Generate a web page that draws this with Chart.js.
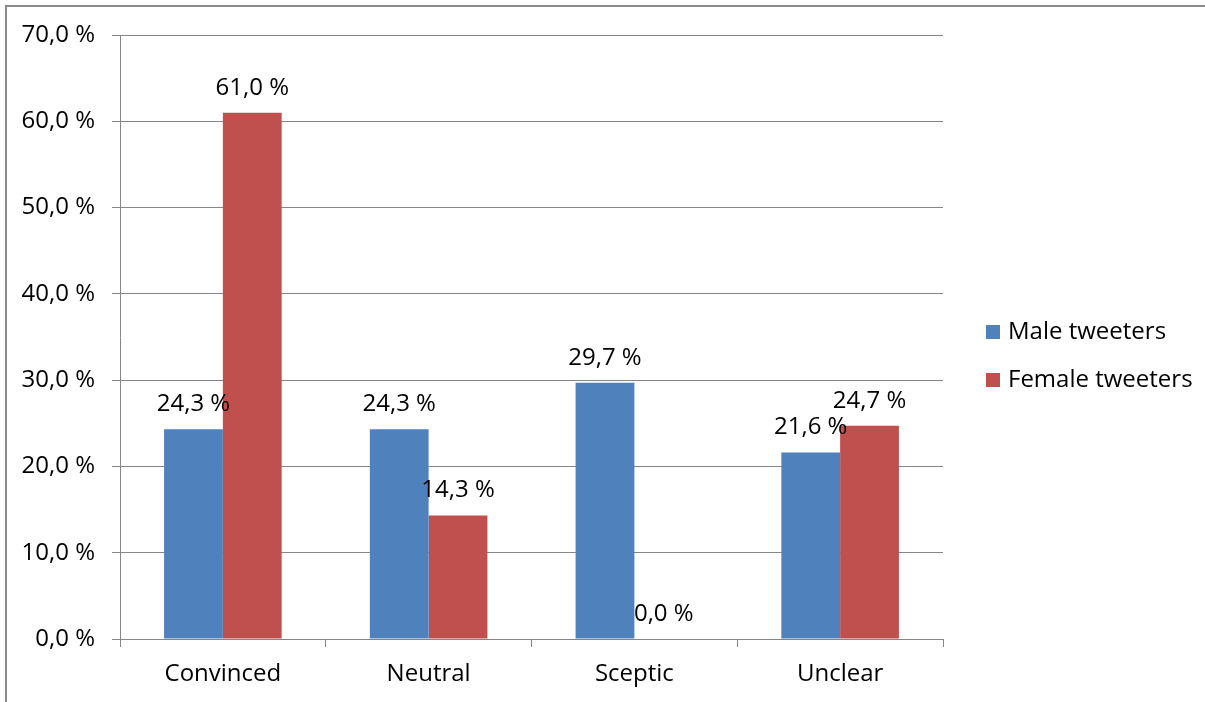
<!DOCTYPE html>
<html>
<head>
<meta charset="utf-8">
<script src="https://cdn.jsdelivr.net/npm/chart.js@4/dist/chart.umd.min.js"></script>
<style>
  html, body { margin: 0; padding: 0; background: #fff; }
  #wrap { position: relative; width: 1205px; height: 702px; }
  canvas { display: block; }
</style>
</head>
<body>
<div id="wrap"><canvas id="chart" width="1205" height="702"></canvas></div>
<script>
// Share of tweets by stance, split by tweeter gender (percent)
const categories = ['Convinced', 'Neutral', 'Sceptic', 'Unclear'];
const maleValues = [24.3, 24.3, 29.7, 21.6];
const femaleValues = [61.0, 14.3, 0.0, 24.7];
const seriesNames = ['Male tweeters', 'Female tweeters'];
const yTickValues = [0, 10, 20, 30, 40, 50, 60, 70];

const BLUE = '#4F81BD';
const RED = '#C0504D';
const GRID = '#868686';
const FONT = { family: '"Open Sans", sans-serif', size: 24 };

const pct = v => v.toFixed(1).replace('.', ',') + ' %';

// Outer chart frame (left and top edges visible)
const framePlugin = {
  id: 'frame',
  beforeDraw(chart) {
    const ctx = chart.ctx;
    ctx.save();
    ctx.strokeStyle = '#8a8a8a';
    ctx.lineWidth = 2;
    ctx.beginPath();
    ctx.moveTo(6, chart.height + 5);
    ctx.lineTo(6, 6);
    ctx.lineTo(chart.width + 5, 6);
    ctx.stroke();
    ctx.restore();
  }
};

// Value labels above every bar
const valueLabels = {
  id: 'valueLabels',
  afterDatasetsDraw(chart) {
    const ctx = chart.ctx;
    ctx.save();
    ctx.font = `${FONT.size}px ${FONT.family}`;
    ctx.fillStyle = '#000';
    ctx.textAlign = 'center';
    ctx.textBaseline = 'middle';
    chart.data.datasets.forEach((ds, i) => {
      chart.getDatasetMeta(i).data.forEach((bar, j) => {
        ctx.fillText(pct(ds.data[j]), bar.x, bar.y - 25);
      });
    });
    ctx.restore();
  }
};

// Legend to the right of the plot area
const sideLegend = {
  id: 'sideLegend',
  afterDraw(chart) {
    const { ctx, chartArea } = chart;
    const x0 = chartArea.right + 43;
    const mid = (chartArea.top + chartArea.bottom) / 2 + 19;
    const rowGap = 48;
    ctx.save();
    ctx.font = `${FONT.size}px ${FONT.family}`;
    ctx.textBaseline = 'middle';
    ctx.textAlign = 'left';
    chart.data.datasets.forEach((ds, i) => {
      const yc = mid + (i - 0.5) * rowGap;
      ctx.fillStyle = ds.backgroundColor;
      ctx.fillRect(x0, yc - 7, 14, 14);
      ctx.fillStyle = '#000';
      ctx.fillText(ds.label, x0 + 22, yc);
    });
    ctx.restore();
  }
};

new Chart(document.getElementById('chart'), {
  type: 'bar',
  data: {
    labels: categories,
    datasets: [
      { label: seriesNames[0], data: maleValues, backgroundColor: BLUE },
      { label: seriesNames[1], data: femaleValues, backgroundColor: RED }
    ]
  },
  options: {
    responsive: false,
    animation: false,
    events: [],
    datasets: { bar: { categoryPercentage: 2 / 3.5, barPercentage: 1.0, borderWidth: 0 } },
    layout: { padding: { left: 0, top: 35, right: 262, bottom: 0 } },
    plugins: { legend: { display: false }, tooltip: { enabled: false } },
    scales: {
      x: {
        offset: true,
        grid: { offset: true, drawOnChartArea: false, drawTicks: true, tickLength: 8, color: GRID },
        border: { color: GRID, width: 1 },
        ticks: { color: '#000', font: FONT, padding: 13 },
        afterFit(scale) { scale.height = 63; }
      },
      y: {
        min: 0,
        max: 70,
        afterBuildTicks(scale) { scale.ticks = yTickValues.map(v => ({ value: v })); },
        grid: { color: GRID, drawTicks: true, tickLength: 8 },
        border: { color: GRID, width: 1 },
        ticks: { color: '#000', font: FONT, padding: 17, callback: v => pct(v) },
        afterFit(scale) { scale.width = 120; }
      }
    }
  },
  plugins: [framePlugin, valueLabels, sideLegend]
});
</script>
</body>
</html>
